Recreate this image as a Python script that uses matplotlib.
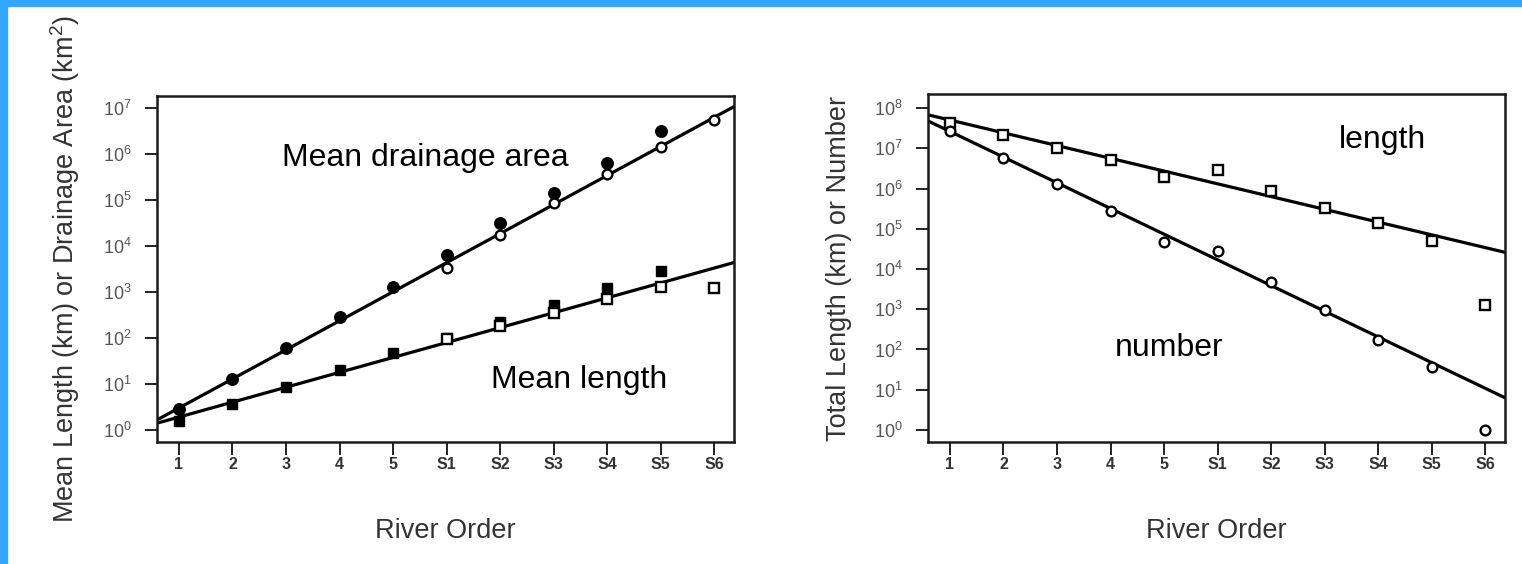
import numpy as np
import matplotlib
matplotlib.use("Agg")
import matplotlib.pyplot as plt
from matplotlib.patches import Rectangle
from matplotlib.ticker import FixedLocator, FuncFormatter

plt.rcParams['font.family'] = ['Liberation Sans', 'DejaVu Sans']
plt.rcParams['mathtext.fontset'] = 'custom'
plt.rcParams['mathtext.rm'] = 'Liberation Sans'

# river orders: 1-5 then Strahler S1-S6
orders = ['1', '2', '3', '4', '5', 'S1', 'S2', 'S3', 'S4', 'S5', 'S6']
x_all = np.arange(1, 12)

# left panel: mean drainage area (km^2)
area_filled = [2.8, 12.7, 60, 280, 1300, 6300, 31000, 145000, 650000, 3.2e6]
area_open = [3250, 17000, 84000, 375000, 1.4e6, 5.6e6]
# left panel: mean length (km)
len_filled = [1.6, 3.7, 8.5, 20, 47, 100, 220, 510, 1200, 2800]
len_open = [95, 180, 345, 700, 1260, 1200]
# fitted lines, values at the left and right plot edges
area_fit = [1.66, 1.07e7]
len_fit = [1.41, 4370]

# right panel: total length (km) and number of streams
tot_length = [4.2e7, 2.1e7, 1.0e7, 5.1e6, 1.9e6, 2.9e6, 8.7e5, 3.3e5, 1.4e5, 5.0e4, 1260]
stream_number = [2.7e7, 5.7e6, 1.3e6, 2.8e5, 4.7e4, 2.8e4, 4.7e3, 960, 173, 37, 1]
tot_length_fit = [6.8e7, 2.6e4]
number_fit = [4.8e7, 6.3]

xlim = (0.59, 11.37)

fig = plt.figure(figsize=(15.22, 5.64), dpi=100)
fig.patch.set_facecolor('white')

# blue frame along top and left edges
blue = '#33A6FF'
fig.patches.append(Rectangle((0, 1 - 6 / 564), 1, 6 / 564, transform=fig.transFigure,
                             color=blue, zorder=0))
fig.patches.append(Rectangle((0, 0), 7 / 1522, 1, transform=fig.transFigure,
                             color=blue, zorder=0))

ax1 = fig.add_axes([157 / 1522, 1 - 442 / 564, 577 / 1522, 346 / 564])
ax2 = fig.add_axes([928 / 1522, 1 - 442 / 564, 577 / 1522, 348 / 564])

lw = 2.3
ms = 8.3


def style_axis(ax, ylims, decades, ylabel):
    ax.set_yscale('log')
    ax.set_xlim(*xlim)
    ax.set_ylim(*ylims)
    ax.xaxis.set_major_locator(FixedLocator(x_all))
    ax.set_xticklabels(orders, fontsize=11.5, fontweight='bold', color='#333333')
    ax.yaxis.set_major_locator(FixedLocator([10.0 ** d for d in decades]))
    ax.yaxis.set_minor_locator(FixedLocator([]))
    ax.yaxis.set_major_formatter(FuncFormatter(
        lambda v, p: r'$\mathregular{10^{%d}}$' % round(np.log10(v))))
    ax.tick_params(axis='both', direction='out', length=9, width=1.4, color='#222222')
    ax.tick_params(axis='y', labelsize=13, labelcolor='#555555', pad=9)
    ax.tick_params(axis='x', pad=2)
    for s in ax.spines.values():
        s.set_linewidth(1.8)
        s.set_color('#1a1a1a')
    ax.set_xlabel('River Order', fontsize=19.5, color='#333333')
    ax.set_ylabel(ylabel, fontsize=19.5, color='#333333')
    ax.xaxis.set_label_coords(0.5, -(518 - 442) / 346)


# left panel
ax1.plot(xlim, area_fit, color='black', lw=lw, zorder=2)
ax1.plot(xlim, len_fit, color='black', lw=lw, zorder=2)
ax1.plot(x_all[:10], area_filled, 'o', color='black', ms=ms, zorder=3)
ax1.plot(x_all[5:], area_open, 'o', mfc='white', mec='black', mew=1.7, ms=7, zorder=3)
ax1.plot(x_all[:10], len_filled, 's', color='black', ms=ms - 0.8, zorder=3)
ax1.plot(x_all[5:], len_open, 's', mfc='white', mec='black', mew=1.7, ms=7, zorder=3)
ax1.text(5.6, 8e5, 'Mean drainage area', fontsize=23, ha='center', va='center')
ax1.text(8.48, 12, 'Mean length', fontsize=23, ha='center', va='center')
style_axis(ax1, (10 ** -0.26, 10 ** 7.26), range(0, 8),
           r'Mean Length (km) or Drainage Area (km$^\mathregular{2}$)')
ax1.yaxis.set_label_coords(-(157 - 82) / 577, 0.5)

# right panel
ax2.plot(xlim, tot_length_fit, color='black', lw=lw, zorder=2)
ax2.plot(xlim, number_fit, color='black', lw=lw, zorder=2)
ax2.plot(x_all, tot_length, 's', mfc='white', mec='black', mew=1.7, ms=7.5, zorder=3)
ax2.plot(x_all, stream_number, 'o', mfc='white', mec='black', mew=1.7, ms=7, zorder=3)
ax2.text(9.09, 1.6e7, 'length', fontsize=23, ha='center', va='center')
ax2.text(5.1, 110, 'number', fontsize=23, ha='center', va='center')
style_axis(ax2, (10 ** -0.30, 10 ** 8.35), range(0, 9), 'Total Length (km) or Number')
ax2.yaxis.set_label_coords(-(928 - 852) / 577, 0.5)

fig.savefig('out.png', dpi=100, facecolor='white')
